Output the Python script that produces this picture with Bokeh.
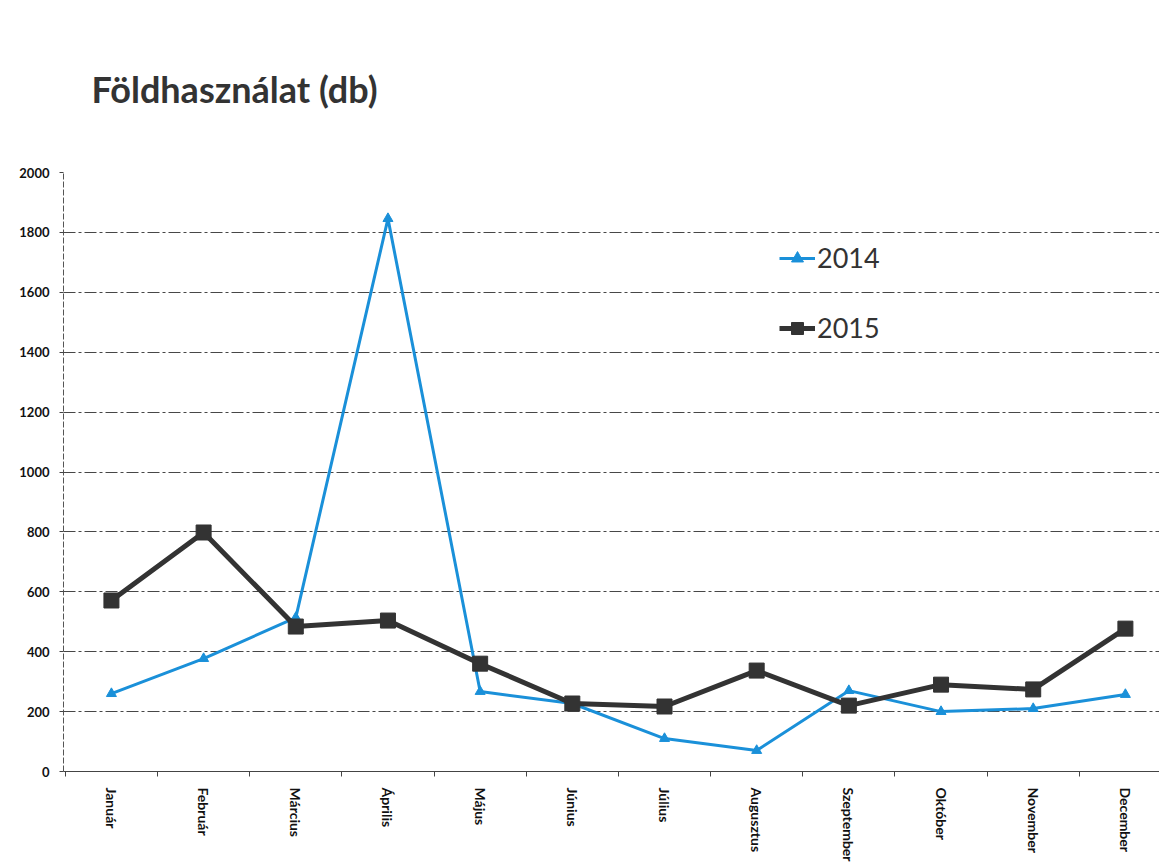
from bokeh.plotting import figure
from bokeh.models import Range1d, FixedTicker, Legend, LegendItem, Title
from bokeh.embed import file_html
from bokeh.resources import INLINE

months = ["Január", "Február", "Március", "Április", "Május", "Június",
          "Július", "Augusztus", "Szeptember", "Október", "November", "December"]
values_2014 = [260, 377, 514, 1846, 267, 227, 110, 70, 270, 200, 210, 257]
values_2015 = [571, 798, 484, 504, 360, 227, 217, 337, 220, 290, 274, 477]
y_ticks = [0, 200, 400, 600, 800, 1000, 1200, 1400, 1600, 1800, 2000]
title_text = "Földhasználat (db)"

x = list(range(len(months)))

p = figure(width=1159, height=866, output_backend="svg", toolbar_location=None,
           x_range=Range1d(-0.52, 11.37), y_range=Range1d(0, 2000),
           min_border_left=63, min_border_right=0, min_border_top=172,
           min_border_bottom=95, background_fill_color="white",
           border_fill_color="white", outline_line_color=None)

p.title = Title(text=title_text, text_font="Lato", text_font_size="36px",
                text_font_style="bold", text_color="#333333", offset=28,
                standoff=120, vertical_align="top")

c14 = "#1a90d9"
c15 = "#333333"
r14l = p.line(x, values_2014, line_color=c14, line_width=3)
r14m = p.scatter(x, values_2014, marker="triangle", size=10, fill_color=c14, line_color=c14)
r15l = p.line(x, values_2015, line_color=c15, line_width=5)
r15m = p.scatter(x, values_2015, marker="square", size=15, fill_color=c15, line_color=c15)

legend = Legend(items=[LegendItem(label="2014", renderers=[r14l, r14m]),
                       LegendItem(label="2015", renderers=[r15l, r15m])],
                location=(716, 427), orientation="vertical",
                border_line_color=None, background_fill_alpha=0,
                label_text_font="Lato", label_text_font_size="27px",
                label_text_color="#333333", glyph_width=36, glyph_height=30,
                label_height=30, spacing=37, label_standoff=2, padding=4)
p.add_layout(legend, "center")

p.xaxis.ticker = FixedTicker(ticks=x, minor_ticks=[i + 0.5 for i in range(-1, 12)])
p.xaxis.major_label_overrides = {i: m for i, m in enumerate(months)}
p.xaxis.major_label_orientation = "vertical"
p.xaxis.major_label_text_font = "Lato"
p.xaxis.major_label_text_font_style = "bold"
p.xaxis.major_label_text_font_size = "14px"
p.xaxis.major_label_text_color = "#111111"
p.xaxis.major_label_standoff = 10
p.xaxis.major_tick_line_color = None
p.xaxis.minor_tick_in = 0
p.xaxis.minor_tick_out = 5
p.xaxis.minor_tick_line_color = "#444444"
p.xaxis.axis_line_color = "#444444"

p.yaxis.ticker = FixedTicker(ticks=y_ticks, minor_ticks=[])
p.yaxis.major_label_text_font = "Lato"
p.yaxis.major_label_text_font_style = "bold"
p.yaxis.major_label_text_font_size = "13px"
p.yaxis.major_label_text_color = "#111111"
p.yaxis.major_label_standoff = 10
p.yaxis.major_tick_in = 0
p.yaxis.major_tick_out = 4
p.yaxis.major_tick_line_color = "#444444"
p.yaxis.axis_line_color = "#555555"
p.yaxis.axis_line_dash = "6 2"

p.xgrid.grid_line_color = None
p.ygrid.ticker = FixedTicker(ticks=y_ticks)
p.ygrid.grid_line_color = "#333333"
p.ygrid.grid_line_width = 1
p.ygrid.grid_line_dash = "12 3 3 3"
p.ygrid.grid_line_alpha = 0.9

open("out.html", "w").write(file_html(p, INLINE))
